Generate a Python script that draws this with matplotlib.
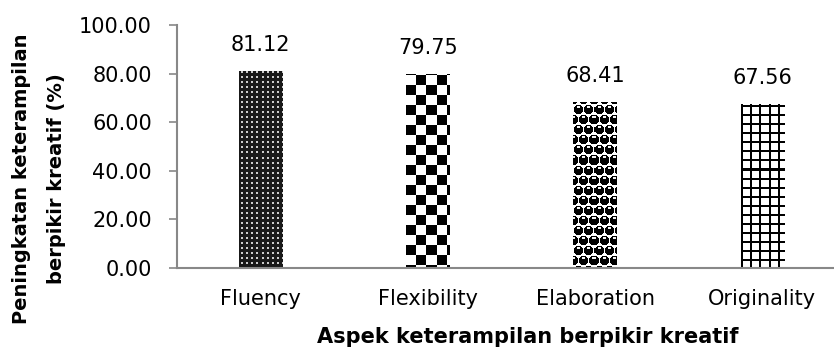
import numpy as np
import matplotlib
matplotlib.use("Agg")
import matplotlib.pyplot as plt

categories = ["Fluency", "Flexibility", "Elaboration", "Originality"]
values = [81.12, 79.75, 68.41, 67.56]
yticks = [0, 20, 40, 60, 80, 100]


def tex_fluency(h, w):
    yy, xx = np.mgrid[0:h, 0:w]
    a = np.full((h, w), 0.1)
    dot = ((yy % 5) >= 2) & ((yy % 5) <= 3) & ((xx % 5) >= 2) & ((xx % 5) <= 3)
    a[dot] = 0.8
    return a


def tex_check(h, w):
    yy, xx = np.mgrid[0:h, 0:w]
    return (((yy // 10) + (xx // 10)) % 2).astype(float)


def tex_spheres(h, w):
    yy, xx = np.mgrid[0:h, 0:w].astype(float)
    a = np.ones((h, w))
    row = np.floor(yy / 10)
    off = (row % 2) * 5
    cx = ((xx + off) % 10) - 5
    cy = (yy % 10) - 5
    r = np.hypot(cx, cy)
    a[r < 5.0] = 0.0
    hl = np.hypot(cx / 2.2, (cy + 2.5) / 0.9)
    a[hl < 1.0] = 0.95
    return a


def tex_grid(h, w):
    yy, xx = np.mgrid[0:h, 0:w]
    a = np.ones((h, w))
    a[(yy % 9) < 2] = 0.0
    a[(xx % 9) < 2] = 0.0
    return a


textures = [tex_fluency, tex_check, tex_spheres, tex_grid]

fig = plt.figure(figsize=(8.34, 3.56), dpi=100)
ax = fig.add_axes([177 / 834, 1 - 268 / 356, (834 - 177) / 834, 243 / 356])
ax.set_xlim(-0.5, 3.5 - 12 / 167)
ax.set_ylim(0, 100)

x = np.arange(len(categories))
bars = ax.bar(x, values, width=0.26, color="none", edgecolor="none")
fig.canvas.draw()
for b, tex in zip(bars, textures):
    x0, y0 = b.get_x(), 0
    x1, y1 = x0 + b.get_width(), 100
    p0 = ax.transData.transform((x0, y0))
    p1 = ax.transData.transform((x1, y1))
    w = int(round(p1[0] - p0[0]))
    h = int(round(p1[1] - p0[1]))
    img = tex(h, w)
    im = ax.imshow(img, cmap="gray", vmin=0, vmax=1, extent=(x0, x1, y0, y1),
                   origin="upper", aspect="auto", interpolation="nearest", zorder=2)
    im.set_clip_path(b)

for xi, v in zip(x, values):
    ax.text(xi, v + 6.5, f"{v:.2f}", ha="center", va="bottom", fontsize=15)

ax.set_yticks(yticks)
ax.set_yticklabels([f"{t:.2f}" for t in yticks], fontsize=15)
ax.set_xticks(x)
ax.set_xticklabels(categories, fontsize=15)
ax.tick_params(axis="x", length=0, pad=15)
ax.tick_params(axis="y", length=6, color="#888888", width=1.2, pad=12)
for s in ["top", "right"]:
    ax.spines[s].set_visible(False)
for s in ["left", "bottom"]:
    ax.spines[s].set_color("#888888")
    ax.spines[s].set_linewidth(1.5)

ax.set_xlabel("Aspek keterampilan berpikir kreatif", fontsize=15, fontweight="bold")
ax.xaxis.set_label_coords((528 - 177) / 657, (268 - 337) / 243)
ax.xaxis.label.set_va("center")

# y label drawn as two rotated lines (wide gap between them in the reference)
fig.text(22 / 834, 1 - 179 / 356, "Peningkatan keterampilan", rotation=90,
         ha="center", va="center", fontsize=14, fontweight="bold")
fig.text(57 / 834, 1 - 179 / 356, "berpikir kreatif (%)", rotation=90,
         ha="center", va="center", fontsize=14, fontweight="bold")

fig.savefig("out.png", dpi=100)
